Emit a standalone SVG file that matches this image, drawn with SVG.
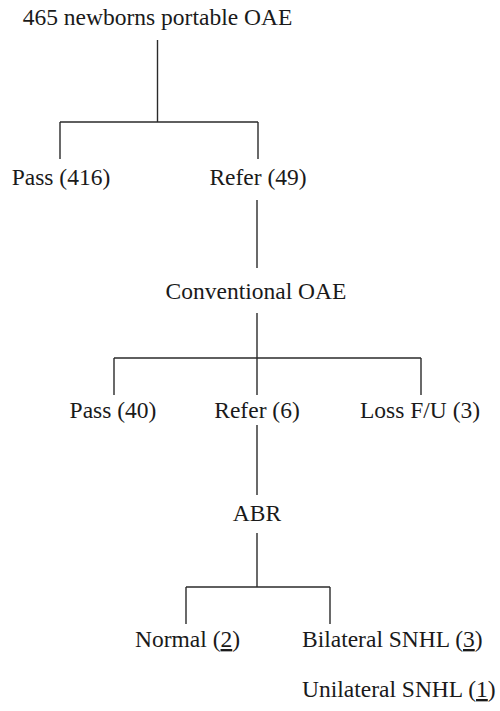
<svg xmlns="http://www.w3.org/2000/svg" width="500" height="711" viewBox="0 0 500 711">
<style>
text{font-family:"Liberation Serif","Times New Roman",serif;font-size:23.5px;fill:#1a1a1a}
.c{text-anchor:middle}
.u{text-decoration:underline}
#connectors line{stroke:#2a2a2a;stroke-width:1.4;fill:none}
</style>
<rect width="500" height="711" fill="#ffffff"/>
<g id="connectors">
<line x1="157.5" y1="40" x2="157.5" y2="122"/>
<line x1="60" y1="122" x2="258" y2="122"/>
<line x1="60" y1="122" x2="60" y2="159"/>
<line x1="258" y1="122" x2="258" y2="159"/>
<line x1="257" y1="200" x2="257" y2="268"/>
<line x1="257" y1="313" x2="257" y2="395"/>
<line x1="114" y1="358" x2="421" y2="358"/>
<line x1="114" y1="358" x2="114" y2="395"/>
<line x1="421" y1="358" x2="421" y2="395"/>
<line x1="257" y1="425" x2="257" y2="495"/>
<line x1="257" y1="533" x2="257" y2="587"/>
<line x1="186" y1="587" x2="330" y2="587"/>
<line x1="186" y1="587" x2="186" y2="624"/>
<line x1="330" y1="587" x2="330" y2="624"/>
</g>
<g id="root"><text class="c" x="157.5" y="25">465 newborns portable OAE</text></g>
<g id="pass416"><text class="c" x="61" y="185">Pass (416)</text></g>
<g id="refer49"><text class="c" x="258" y="185">Refer (49)</text></g>
<g id="conventional"><text class="c" x="256" y="299">Conventional OAE</text></g>
<g id="pass40"><text class="c" x="113" y="418">Pass (40)</text></g>
<g id="refer6"><text class="c" x="257" y="418">Refer (6)</text></g>
<g id="loss"><text class="c" x="420" y="418">Loss F/U (3)</text></g>
<g id="abr"><text class="c" x="257" y="521">ABR</text></g>
<g id="normal"><text x="135" y="647">Normal (<tspan class="u">2</tspan>)</text></g>
<g id="bilateral"><text x="302" y="647">Bilateral SNHL (<tspan class="u">3</tspan>)</text></g>
<g id="unilateral"><text x="302" y="697">Unilateral SNHL (<tspan class="u">1</tspan>)</text></g>
</svg>
